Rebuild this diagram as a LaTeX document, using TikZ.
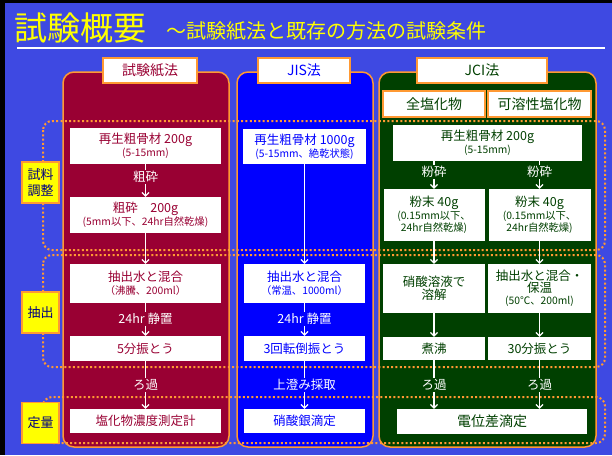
\documentclass[tikz,border=0pt]{standalone}
\usepackage{fontspec}
\setmainfont{Noto Sans CJK JP}
\usetikzlibrary{arrows.meta}
\definecolor{bgblue}{RGB}{62,73,226}
\definecolor{crim}{RGB}{153,0,51}
\definecolor{jisblue}{RGB}{0,0,255}
\definecolor{jcigreen}{RGB}{0,64,0}
\definecolor{orng}{RGB}{255,153,51}
\definecolor{navyc}{RGB}{0,0,128}
\definecolor{ttlyellow}{RGB}{255,255,0}
\newcommand\fmain{\fontsize{12.5}{14.5}\selectfont}
\newcommand\fsub{\fontsize{10.3}{12}\selectfont}
\begin{document}
\begin{tikzpicture}[x=1pt,y=-1pt,
  panel/.style={draw=orng, line width=1.5pt, rounded corners=11pt},
  hdr/.style={draw=orng, fill=white, line width=1.5pt, inner sep=0pt, minimum height=25pt, font=\fontsize{14}{16}\selectfont},
  wbox/.style={fill=white, inner sep=0pt, align=center, font=\fmain},
  grp/.style={draw=orng, line width=2pt, dash pattern=on 2pt off 2.3pt, rounded corners=9pt},
  glabel/.style={fill=ttlyellow, draw=orng, line width=1.5pt, text=navyc, minimum width=37pt, minimum height=41pt, inner sep=0pt, align=center, font=\fontsize{13}{16}\selectfont},
  lbl/.style={text=white, inner sep=1.5pt, font=\fmain},
  conn/.style={draw=white, line width=1.2pt},
  arr/.style={conn, -{Straight Barb[length=3.5pt,width=7pt,line width=1.2pt]}}
]
\useasboundingbox (0,0) rectangle (612,455);
\fill[bgblue] (0,0) rectangle (612,455);
\fill[black] (0,0) rectangle (612,3);
\fill[black] (0,0) rectangle (5,455);
% title
\node[anchor=base west, inner sep=0pt, text=ttlyellow, font=\fontsize{33}{36}\selectfont] (t1) at (14,40) {試験概要};
\node[anchor=base west, inner sep=0pt, text=ttlyellow, font=\fontsize{20}{22}\selectfont] (t2) at (166,38) {～試験紙法と既存の方法の試験条件};
\draw[white, line width=2pt] (17,48) -- (605,48);
% panels
\draw[panel, fill=crim] (63,72) rectangle (229,447);
\draw[panel, fill=jisblue] (237,72) rectangle (373,447);
\draw[panel, fill=jcigreen] (379,72) rectangle (596,447);
% groups
\draw[grp] (43,121) rectangle (605,250);
\draw[grp] (43,255) rectangle (605,367);
\draw[grp] (43,397) rectangle (605,443);
% headers
\node[hdr, text=crim, minimum width=94pt] (h1) at (150,70.5) {試験紙法};
\node[hdr, text=jisblue, minimum width=92pt] (h2) at (304,70.5) {JIS法};
\node[hdr, text=jcigreen, minimum width=130pt] (h3) at (482,70.5) {JCI法};
\node[hdr, text=jcigreen, minimum width=102pt, minimum height=26pt] (s1) at (434,104) {全塩化物};
\node[hdr, text=jcigreen, minimum width=103pt, minimum height=26pt] (s2) at (539.5,104) {可溶性塩化物};
% group labels
\node[glabel] (gl1) at (40.5,182.5) {試料\\調整};
\node[glabel] (gl2) at (40.5,312.5) {抽出};
\node[glabel] (gl3) at (40.5,423) {定量};
% left column
\node[wbox, text=crim, minimum width=151pt, minimum height=36pt] (a1) at (145.5,146) {再生粗骨材 200g\\[-1.5pt]{\fsub (5-15mm)}};
\node[lbl] (la1) at (145.5,177) {粗砕};
\node[wbox, text=crim, minimum width=151pt, minimum height=36pt] (a2) at (145.5,215) {粗砕　200g\\[-1.5pt]{\fsub (5mm以下、24hr自然乾燥)}};
\node[wbox, text=crim, minimum width=151pt, minimum height=39pt] (a3) at (145.5,283.5) {抽出水と混合\\[-1.5pt]{\fsub （沸騰、200ml）}};
\node[lbl] (la2) at (145.5,319) {24hr 静置};
\node[wbox, text=crim, minimum width=151pt, minimum height=25pt] (a4) at (145.5,348.5) {5分振とう};
\node[lbl] (la3) at (145.5,385) {ろ過};
\node[wbox, text=crim, minimum width=151pt, minimum height=24pt] (a5) at (145.5,421) {塩化物濃度測定計};
\draw[conn] (a1) -- (la1);
\draw[arr] (la1) -- (a2);
\draw[arr] (a2) -- (a3);
\draw[conn] (a3) -- (la2);
\draw[arr] (la2) -- (a4);
\draw[conn] (a4) -- (la3);
\draw[arr] (la3) -- (a5);
% middle column
\node[wbox, text=jisblue, minimum width=123pt, minimum height=35pt] (b1) at (304.5,146.5) {再生粗骨材 1000g\\[-1.5pt]{\fsub (5-15mm、絶乾状態)}};
\node[wbox, text=jisblue, minimum width=121pt, minimum height=39pt] (b2) at (304.5,283.5) {抽出水と混合\\[-1.5pt]{\fsub （常温、1000ml）}};
\node[lbl] (lb1) at (304.5,319) {24hr 静置};
\node[wbox, text=jisblue, minimum width=121pt, minimum height=25pt] (b3) at (304.5,348.5) {3回転倒振とう};
\node[lbl] (lb2) at (304.5,385) {上澄み採取};
\node[wbox, text=jisblue, minimum width=121pt, minimum height=24pt] (b4) at (304.5,421) {硝酸銀滴定};
\draw[arr] (b1) -- (b2);
\draw[conn] (b2) -- (lb1);
\draw[arr] (lb1) -- (b3);
\draw[conn] (b3) -- (lb2);
\draw[arr] (lb2) -- (b4);
% right column
\node[wbox, text=jcigreen, minimum width=189pt, minimum height=36pt] (c1) at (487.5,143) {再生粗骨材 200g\\[-1.5pt]{\fsub (5-15mm)}};
\node[lbl] (lc1) at (434,172) {粉砕};
\node[lbl] (lc2) at (539.5,172) {粉砕};
\node[wbox, text=jcigreen, minimum width=101pt, minimum height=52pt] (cl2) at (434,215) {粉末 40g\\[-1.5pt]{\fsub (0.15mm以下、}\\[-2.5pt]{\fsub 24hr自然乾燥)}};
\node[wbox, text=jcigreen, minimum width=102pt, minimum height=52pt] (cr2) at (539.5,215) {粉末 40g\\[-1.5pt]{\fsub (0.15mm以下、}\\[-2.5pt]{\fsub 24hr自然乾燥)}};
\node[wbox, text=jcigreen, minimum width=102pt, minimum height=49pt] (cl3) at (434,288.5) {硝酸溶液で\\[-1.5pt]溶解};
\node[wbox, text=jcigreen, minimum width=103pt, minimum height=49pt] (cr3) at (539.5,288.5) {抽出水と混合・\\[-3pt]保温\\[-2.5pt]{\fsub (50℃、200ml)}};
\node[wbox, text=jcigreen, minimum width=102pt, minimum height=23pt] (cl4) at (434,348.5) {煮沸};
\node[wbox, text=jcigreen, minimum width=103pt, minimum height=23pt] (cr4) at (539.5,348.5) {30分振とう};
\node[lbl] (lc3) at (434,385) {ろ過};
\node[lbl] (lc4) at (539.5,385) {ろ過};
\node[wbox, text=jcigreen, minimum width=190pt, minimum height=25pt, font=\fontsize{14}{16}\selectfont] (c5) at (492,421.5) {電位差滴定};
\draw[conn] (c1.south -| lc1) -- (lc1);
\draw[conn] (c1.south -| lc2) -- (lc2);
\draw[arr] (lc1) -- (cl2);
\draw[arr] (lc2) -- (cr2);
\draw[arr] (cl2) -- (cl3);
\draw[arr] (cr2) -- (cr3);
\draw[arr] (cl3) -- (cl4);
\draw[arr] (cr3) -- (cr4);
\draw[conn] (cl4) -- (lc3);
\draw[conn] (cr4) -- (lc4);
\draw[arr] (lc3) -- (c5.north -| lc3);
\draw[arr] (lc4) -- (c5.north -| lc4);
\end{tikzpicture}
\end{document}
